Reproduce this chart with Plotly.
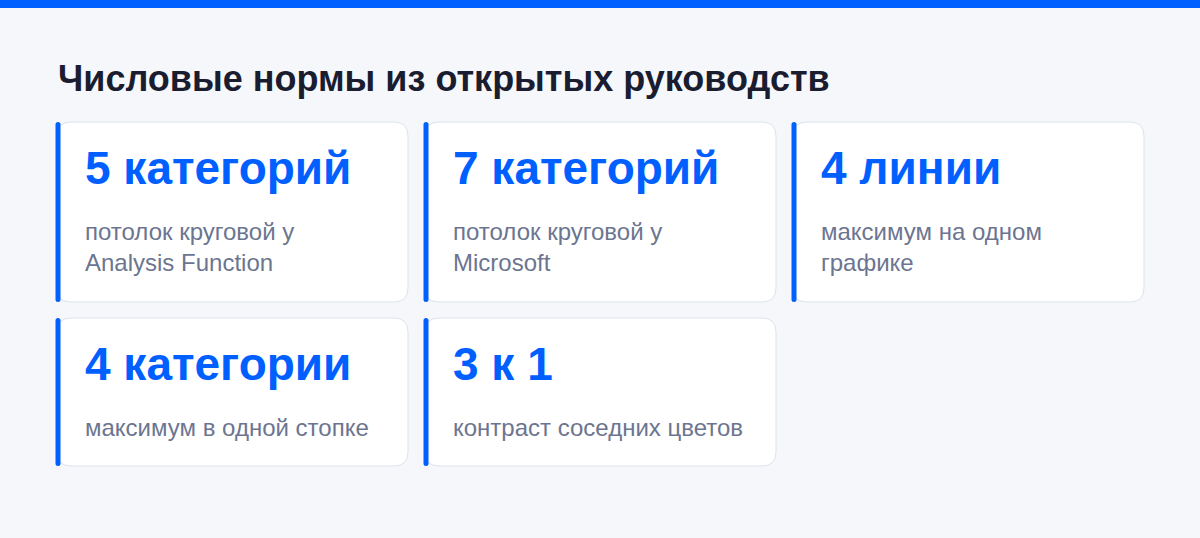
import plotly.graph_objects as go

# ============================================================
# DADOS
# ============================================================
title = "Числовые нормы из открытых руководств"

values = ["5 категорий", "7 категорий", "4 линии", "4 категории", "3 к 1"]
descriptions = [
    "потолок круговой у<br>Analysis Function",
    "потолок круговой у<br>Microsoft",
    "максимум на одном<br>графике",
    "максимум в одной стопке",
    "контраст соседних цветов",
]

# ============================================================
# ESTILO / GRADE
# ============================================================
W, H = 1200, 538
BLUE = "#0060FF"
BG = "#F6F7FB"
BORDER = "#DEE2EE"
DARK = "#1A1D30"
GREY = "#6C7590"
FONT = "Liberation Sans, Arial, sans-serif"

N_COLS = 3
CARD_X0, CARD_W, GAP_X = 57, 351, 17
ROWS_Y = [(122, 302), (318, 466)]
RADIUS = 14


def rounded_rect(x0, y0, x1, y1, r):
    return (f"M {x0 + r},{y0} L {x1 - r},{y0} Q {x1},{y0} {x1},{y0 + r} "
            f"L {x1},{y1 - r} Q {x1},{y1} {x1 - r},{y1} L {x0 + r},{y1} "
            f"Q {x0},{y1} {x0},{y1 - r} L {x0},{y0 + r} Q {x0},{y0} {x0 + r},{y0} Z")


fig = go.Figure()

shapes = [dict(type="rect", x0=0, x1=W, y0=0, y1=8, line_width=0, fillcolor=BLUE, layer="below")]
annotations = [dict(x=56, y=78, text=f"<b>{title}</b>", showarrow=False, xanchor="left",
                    yanchor="middle", font=dict(family=FONT, size=36, color=DARK))]

for i, (val, desc) in enumerate(zip(values, descriptions)):
    row, col = divmod(i, N_COLS)
    x0 = CARD_X0 + col * (CARD_W + GAP_X)
    x1 = x0 + CARD_W
    y0, y1 = ROWS_Y[row]
    shapes.append(dict(type="path", path=rounded_rect(x0, y0, x1, y1, RADIUS),
                       fillcolor="white", line=dict(color=BORDER, width=1), layer="below"))
    shapes.append(dict(type="path", path=rounded_rect(x0 - 1.5, y0, x0 + 3.5, y1, 2.5),
                       fillcolor=BLUE, line_width=0, layer="below"))
    annotations.append(dict(x=x0 + 26, y=y0 + 46, text=f"<b>{val}</b>", showarrow=False,
                            xanchor="left", yanchor="middle",
                            font=dict(family=FONT, size=46, color=BLUE)))
    annotations.append(dict(x=x0 + 26, y=y0 + 94, text=desc, showarrow=False,
                            xanchor="left", yanchor="top", align="left",
                            font=dict(family=FONT, size=24, color=GREY)))

fig.update_layout(
    width=W, height=H,
    margin=dict(l=0, r=0, t=0, b=0),
    paper_bgcolor=BG, plot_bgcolor=BG,
    xaxis=dict(range=[0, W], visible=False, fixedrange=True),
    yaxis=dict(range=[H, 0], visible=False, fixedrange=True),
    shapes=shapes, annotations=annotations, showlegend=False,
)

fig.write_html("out.html", config={"displayModeBar": False},
               post_script="document.body.style.margin='0';")
